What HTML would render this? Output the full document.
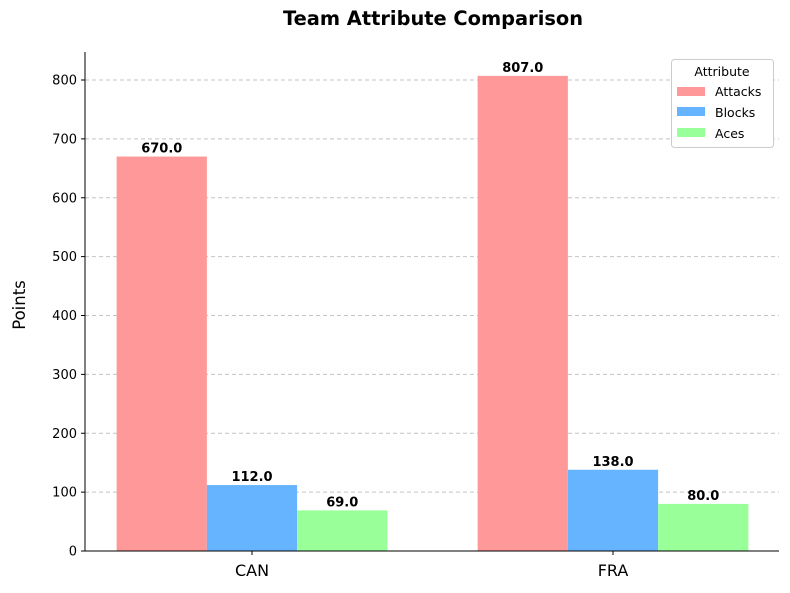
<!DOCTYPE html>
<html><head><meta charset="utf-8"><style>
body{margin:0;background:#fff;font-family:"DejaVu Sans","Liberation Sans",sans-serif}
svg text{font-family:"DejaVu Sans","Liberation Sans",sans-serif}
</style></head><body>
<svg id="c" width="790" height="589" xmlns="http://www.w3.org/2000/svg">
<text x="433" y="25" text-anchor="middle" font-size="19.4" font-weight="bold">Team Attribute Comparison</text>
<text transform="translate(25,305) rotate(-90)" text-anchor="middle" font-size="16.5">Points</text>
<g id="grid"></g><g id="bars"></g><g id="axes"></g>
<g>
<rect x="671.5" y="59.5" width="102" height="88" rx="3" fill="#fff" stroke="#ccc"/>
<text x="722" y="76" text-anchor="middle" font-size="12.5">Attribute</text>
<g><rect x="677" y="87" width="28" height="9" fill="#ff9999"/><text x="715" y="96" font-size="12.5">Attacks</text></g>
<g><rect x="677" y="107" width="28" height="9" fill="#66b3ff"/><text x="715" y="117" font-size="12.5">Blocks</text></g>
<g><rect x="677" y="128" width="28" height="9" fill="#99ff99"/><text x="715" y="138" font-size="12.5">Aces</text></g>
</g>
</svg>
<script>
const categories=["CAN","FRA"];
const seriesNames=["Attacks","Blocks","Aces"];
const attacks=[670,807];
const blocks=[112,138];
const aces=[69,80];
const yTicks=[0,100,200,300,400,500,600,700,800];
const colors=["#ff9999","#66b3ff","#99ff99"];
const NS="http://www.w3.org/2000/svg";
const x0=85,x1=779,y0=551,yTop=52;
const y=v=>y0-v*(471/800);
const unit=361,xs=i=>252+i*unit;
const bw=0.25*unit;
function el(t,a,p){const e=document.createElementNS(NS,t);for(const k in a)e.setAttribute(k,a[k]);p.appendChild(e);return e;}
const grid=document.getElementById('grid'),bars=document.getElementById('bars'),axes=document.getElementById('axes');
yTicks.forEach(v=>{
 if(v>0){const g=el('line',{x1:x0,x2:x1,y1:y(v),y2:y(v),stroke:'#c4c4c4','stroke-dasharray':'4,3'},grid);
 
 }
 el('line',{x1:x0-4,x2:x0,y1:y(v),y2:y(v),stroke:'#000'},axes);
 const t=el('text',{x:x0-8,y:y(v)+4.5,'text-anchor':'end','font-size':'13'},axes);t.textContent=v;
 
 
});
const series=[attacks,blocks,aces];
categories.forEach((c,i)=>{
 series.forEach((s,j)=>{
  const cx=xs(i)+(j-1)*bw;
  const r=el('rect',{x:cx-bw/2,y:y(s[i]),width:bw,height:y0-y(s[i]),fill:colors[j]},bars);
  
  
  const t=el('text',{x:cx,y:y(s[i])-4,'text-anchor':'middle','font-size':'13','font-weight':'bold'},bars);
  t.textContent=s[i].toFixed(1);
  
  
 });
 el('line',{x1:xs(i),x2:xs(i),y1:y0,y2:y0+4,stroke:'#000'},axes);
 const t=el('text',{x:xs(i),y:y0+25,'text-anchor':'middle','font-size':'16'},axes);t.textContent=c;
 
 
});
const la=el('line',{x1:x0,x2:x0,y1:yTop,y2:y0,stroke:'#000'},axes);


const lb=el('line',{x1:x0,x2:x1,y1:y0,y2:y0,stroke:'#000'},axes);


</script>
</body></html>
